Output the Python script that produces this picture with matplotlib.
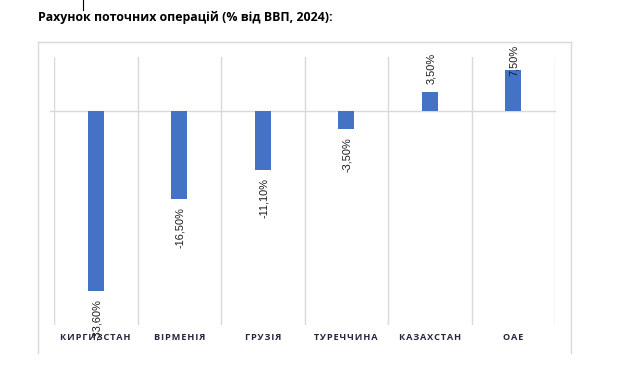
import matplotlib
matplotlib.use("Agg")
import matplotlib.pyplot as plt
from matplotlib.lines import Line2D

title = "Рахунок поточних операцій (% від ВВП, 2024):"
categories = ["КИРГИЗСТАН", "ВІРМЕНІЯ", "ГРУЗІЯ", "ТУРЕЧЧИНА", "КАЗАХСТАН", "ОАЕ"]
values = [-33.6, -16.5, -11.1, -3.5, 3.5, 7.5]
value_labels = ["-33,60%", "-16,50%", "-11,10%", "-3,50%", "3,50%", "7,50%"]

W, H = 644, 385
fig = plt.figure(figsize=(W / 100, H / 100), dpi=100)
fig.patch.set_facecolor("white")

ax = fig.add_axes([54 / W, 1 - 325 / H, (555 - 54) / W, (325 - 57) / H])
ax.set_xlim(-0.5, len(categories) - 0.5)
ax.set_ylim(-40, 10)
for s in ax.spines.values():
    s.set_visible(False)
ax.set_xticks([])
ax.set_yticks([])

grid_c = "#d9d9d9"
for i in range(len(categories) + 1):
    ax.axvline(i - 0.5, color=grid_c, lw=1.0, zorder=1)
ax.plot([-0.55, len(categories) - 0.5], [0, 0], color=grid_c, lw=1.0, zorder=1, clip_on=False)

x = list(range(len(categories)))
ax.bar(x, values, width=0.19, color="#4472C4", zorder=2)

labels = []
for xi, v, lab in zip(x, values, value_labels):
    off = 8 if v > 0 else -8
    t = ax.annotate(lab, (xi, v), xytext=(1, off), textcoords="offset pixels",
                    rotation=90, ha="center", va="bottom" if v > 0 else "top",
                    fontsize=7.9, family="Liberation Sans", color="#1a1a1a", zorder=3,
                    annotation_clip=False)
    labels.append((t, v))

for xi, c in zip(x, categories):
    ax.annotate("\u200a".join(c), (xi, -40), xytext=(0, -13), textcoords="offset pixels",
                ha="center", va="center", fontsize=6.6, fontweight="bold",
                family=["Open Sans", "DejaVu Sans"], color="#262640", zorder=4,
                annotation_clip=False)

# keep positive labels inside the chart frame (top limit 45 px from top)
fig.canvas.draw()
r = fig.canvas.get_renderer()
top_limit_disp = H - 45
for t, v in labels:
    if v > 0:
        bb = t.get_window_extent(r)
        if bb.y1 > top_limit_disp:
            dx, dy = t.xyann
            t.xyann = (dx, dy - (bb.y1 - top_limit_disp))

# chart frame
fc = "#d9d9d9"
fig.add_artist(Line2D([38 / W, 38 / W], [1 - 42 / H, 1 - 353 / H], color=fc, lw=1.0))
fig.add_artist(Line2D([38 / W, 571 / W], [1 - 42 / H, 1 - 42 / H], color=fc, lw=1.0))
fig.add_artist(Line2D([571 / W, 571 / W], [1 - 42 / H, 1 - 353 / H], color=fc, lw=1.0))
# small cursor mark at top
fig.add_artist(Line2D([83 / W, 83 / W], [1.0, 1 - 10 / H], color="black", lw=0.8))

fig.text(38 / W, 1 - 17 / H, title, ha="left", va="center", fontsize=8.9,
         fontweight="bold", family="Open Sans", color="black")

fig.savefig("out.png", dpi=100)
